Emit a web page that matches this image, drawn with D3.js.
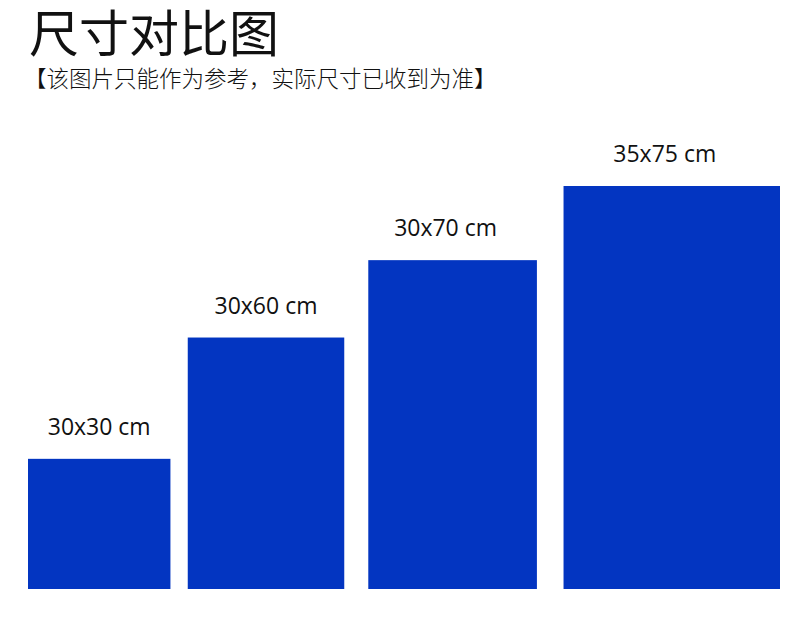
<!DOCTYPE html>
<html>
<head>
<meta charset="utf-8">
<script src="https://cdn.jsdelivr.net/npm/d3@7"></script>
<style>
  html, body { margin: 0; padding: 0; background: #ffffff; }
  svg { display: block; }
</style>
</head>
<body>
<svg id="chart" width="800" height="624"></svg>
<script>
// ---- data ----
const titleText = "尺寸对比图";
const subtitleText = "【该图片只能作为参考，实际尺寸已收到为准】";
const sizeLabels = ["30x30 cm", "30x60 cm", "30x70 cm", "35x75 cm"];
// relative widths / heights of the rectangles as drawn (widest / tallest = 100)
const shownWidths = [65.8, 72.3, 77.9, 100];
const shownHeights = [32.3, 62.4, 81.6, 100];
// relative gaps between neighbouring rectangles, same units as widths
const shownGaps = [8.0, 11.1, 12.3];

// ---- layout ----
const W = 800, H = 624;
const plotLeft = 28, plotRight = 780, baseY = 589, topY = 186;
const barColor = "#0335C1";

const svg = d3.select("#chart");
svg.append("rect").attr("width", W).attr("height", H).attr("fill", "#fff");

svg.append("text")
  .attr("x", 29).attr("y", 52)
  .attr("font-family", "'Noto Sans CJK SC', sans-serif")
  .attr("font-weight", 400)
  .attr("font-size", 50)
  .attr("fill", "#111")
  .text(titleText);

svg.append("text")
  .attr("x", 24).attr("y", 87)
  .attr("font-family", "'Noto Sans CJK SC', sans-serif")
  .attr("font-weight", 300)
  .attr("font-size", 22.5)
  .attr("fill", "#111")
  .text(subtitleText);

// cumulative positions in width units
const starts = [];
let acc = 0;
shownWidths.forEach((w, i) => { starts.push(acc); acc += w + (i < shownGaps.length ? shownGaps[i] : 0); });

const x = d3.scaleLinear().domain([0, acc]).range([plotLeft, plotRight]);
const y = d3.scaleLinear().domain([0, 100]).range([baseY, topY]);

const data = sizeLabels.map((label, i) => ({
  label, start: starts[i], w: shownWidths[i], h: shownHeights[i]
}));

const g = svg.append("g");
g.selectAll("rect.bar").data(data).join("rect")
  .attr("class", "bar")
  .attr("x", d => x(d.start))
  .attr("y", d => y(d.h))
  .attr("width", d => x(d.start + d.w) - x(d.start))
  .attr("height", d => y(0) - y(d.h))
  .attr("fill", barColor);

g.selectAll("text.lbl").data(data).join("text")
  .attr("class", "lbl")
  .attr("x", d => (x(d.start) + x(d.start + d.w)) / 2 - (d.w > 75 ? 7 : 0))
  .attr("y", d => y(d.h) - 24)
  .attr("text-anchor", "middle")
  .attr("font-family", "'Open Sans', 'Noto Sans', sans-serif")
  .attr("font-size", 23)
  .attr("fill", "#111")
  .text(d => d.label);
</script>
</body>
</html>
